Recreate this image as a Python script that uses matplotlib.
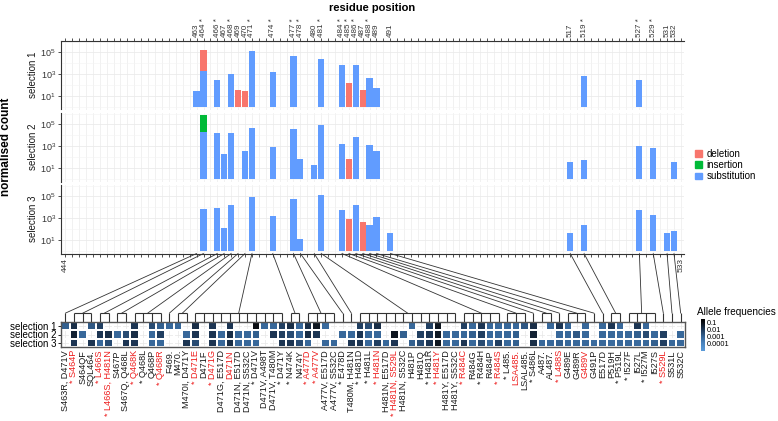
import re
import numpy as np
import matplotlib.pyplot as plt
from matplotlib.colors import LinearSegmentedColormap, Normalize
from matplotlib.patches import Patch, ConnectionPatch

plt.rcParams['font.family'] = ['Liberation Sans', 'DejaVu Sans']
plt.rcParams['mathtext.default'] = 'regular'

# %% Data
res_lo, res_hi = 444, 533
tick_res = [463, 464, 466, 467, 468, 469, 470, 471, 474, 477, 478, 480, 481,
            484, 485, 486, 487, 488, 489, 491, 517, 519, 527, 529, 531, 532]
star_res = [464, 466, 468, 471, 474, 477, 478, 481, 484, 485, 486, 488, 519, 527, 529]

# normalised counts per residue (substitution / deletion / insertion)
sel1_sub_res = [463, 464, 466, 468, 471, 474, 477, 481, 484, 486, 488, 489, 519, 527]
sel1_sub = [27, 2000, 300, 1100, 145000, 1600, 52000, 26000, 7200, 7200, 460, 51, 700, 300]
sel1_del_res = [464, 469, 470, 485, 487]
sel1_del = [87, 34, 28, 150, 34]
sel1_ins_res = []
sel1_ins = []

sel2_sub_res = [464, 466, 467, 468, 470, 471, 474, 477, 478, 480, 481, 484, 486, 488,
                489, 517, 519, 527, 529, 532]
sel2_sub = [20000, 17000, 210, 15000, 380, 51000, 870, 35000, 72, 20, 93000, 1700, 7400,
            1260, 350, 32, 51, 1000, 650, 32]
sel2_del_res = [485]
sel2_del = [72]
sel2_ins_res = [464]
sel2_ins = [35]

sel3_sub_res = [464, 466, 467, 468, 471, 474, 477, 478, 481, 484, 486, 488, 489, 491,
                517, 519, 527, 529, 531, 532]
sel3_sub = [6500, 8000, 115, 15000, 87000, 1550, 56000, 13, 135000, 6000, 18000, 260, 1260,
            45, 41, 260, 5100, 1800, 45, 69]
sel3_del_res = [485, 487]
sel3_del = [930, 470]
sel3_ins_res = []
sel3_ins = []

variants = ["S463R, D471V", "* S464P", "S464QF", "SQL464.", "* L466S", "* L466S, H481N",
            "S467P", "S467Q, Q468L", "* Q468K", "* Q468L", "Q468P", "* Q468R", "F469.",
            "M470.", "M470I, D471Y", "* D471E", "D471F", "* D471G", "D471G, E517D", "D471N",
            "D471N, E517D", "D471N, S532C", "* D471V", "D471V, A498T", "D471V, T480M",
            "* D471Y", "* N474K", "N474Y", "* A477D", "* A477V", "A477V, E517D",
            "A477V, S532C", "* E478D", "T480M, H481N", "* H481D", "* H481L", "* H481N",
            "H481N, E517D", "* H481N, S529L", "H481N, S532C", "H481P", "H481Q", "* H481R",
            "* H481Y", "H481Y, E517D", "H481Y, S532C", "* R484C", "R484G", "* R484H",
            "R484P", "* R484S", "* L485.", "LSA485.", "LSAL485.", "* S486L", "A487.",
            "AL487.", "* L488S", "G489E", "G489R", "G489V", "G491P", "E517D", "P519H",
            "* P519L", "* I527F", "I527L", "* I527M", "I527S", "* S529L", "S531L", "S532C"]
red_variants = ["S464P", "L466S", "L466S, H481N", "Q468K", "Q468R", "D471E", "D471G",
                "D471N", "A477D", "A477V", "H481N", "H481N, S529L", "H481Y", "R484C",
                "R484S", "LSA485.", "L488S", "G489V", "S529L"]

freq_sel1 = [0.001, 0.015, None, 0.0015, 0.006, None, None, None, 0.01, None,
             0.003, 0.001, 0.0006, 0.0006, None, 0.015, None, 0.01, None, 0.01,
             None, None, 0.1, 0.0006, 0.0006, 0.006, 0.015, 0.0006, 0.015, 0.06,
             0.0005, None, None, None, 0.006, 0.003, 0.015, None, None, None,
             0.0006, None, 0.006, 0.06, None, None, 0.006, 0.0006, 0.01, 0.0006,
             0.0006, 0.0006, 0.0006, 0.0015, 0.015, None, 0.0006, 0.01, 0.0006, None,
             0.0006, None, 0.0006, 0.01, 0.0006, None, 0.01, 0.0006, None, None,
             None, None]
freq_sel2 = [None, 0.03, 0.0006, None, 0.01, 0.015, 0.0006, 0.003, 0.015, None,
             0.0006, 0.006, None, None, 0.0006, 0.01, None, 0.01, 0.0006, 0.015,
             0.0006, 0.0006, 0.001, None, 0.01, 0.006, 0.003, 0.0006, 0.015, 0.01,
             None, None, 0.0006, 0.0006, 0.01, 0.0006, 0.0006, None, 0.06, 0.001,
             None, 0.006, 0.01, 0.05, 0.0006, 0.0006, 0.0006, 0.001, 0.006, 0.0006,
             0.0006, 0.0006, 0.001, None, 0.03, None, None, 0.0006, 0.0006, 0.0015,
             0.0006, None, 0.0006, 0.0006, 0.0005, 0.0006, 0.001, 0.003, 0.0006, 0.006,
             None, 0.0006]
freq_sel3 = [None, 0.01, None, 0.01, 0.0006, 0.003, None, 0.01, 0.01, None,
             0.0006, 0.0006, None, None, 0.01, 0.003, None, 0.01, 0.0006, 0.015,
             0.0006, 0.0006, 0.0006, None, None, 0.01, 0.01, 0.003, 0.0006, None,
             0.0006, 0.0006, None, 0.01, 0.01, 0.0006, 0.006, 0.0006, 0.01, None,
             0.001, 0.003, 0.01, 0.06, 0.0006, 0.0006, 0.01, 0.0006, 0.003, 0.0006,
             0.006, 0.0006, 0.001, None, 0.015, 0.0006, 0.0006, 0.001, 0.0006, 0.0006,
             0.0006, 0.0005, 0.0006, 0.0005, 0.0006, 0.0006, 0.0005, 0.0006, 0.001, 0.006,
             0.0006, 0.0006]

col_sub, col_del, col_ins = '#619CFF', '#F8766D', '#00BA38'

# %% Figure layout (pixel based, 778x421)
W, H = 778, 421
fig = plt.figure(figsize=(W / 100, H / 100), dpi=100)

def px_axes(left, top, right, bottom):
    return fig.add_axes([left / W, 1 - bottom / H, (right - left) / W, (bottom - top) / H])

panels = [px_axes(61, 41, 684, 109.5), px_axes(61, 113, 684, 181.5), px_axes(61, 185, 684, 253.5)]
sel_data = [(sel1_sub_res, sel1_sub, sel1_del_res, sel1_del, sel1_ins_res, sel1_ins),
            (sel2_sub_res, sel2_sub, sel2_del_res, sel2_del, sel2_ins_res, sel2_ins),
            (sel3_sub_res, sel3_sub, sel3_del_res, sel3_del, sel3_ins_res, sel3_ins)]
positions = np.arange(res_lo, res_hi + 1)

for i, (ax, (sr, sv, dr, dv, ir, iv)) in enumerate(zip(panels, sel_data)):
    base = dict(zip(sr, np.log10(sv)))
    # stacking happens on the log scale, as ggplot does it
    ax.bar(sr, np.log10(sv), width=0.9, color=col_sub, zorder=2)
    ax.bar(dr, np.log10(dv), bottom=[base.get(r, 0) for r in dr], width=0.9, color=col_del, zorder=2)
    if ir:
        ax.bar(ir, np.log10(iv), bottom=[base.get(r, 0) for r in ir], width=0.9, color=col_ins, zorder=2)
    ax.set_xlim(443.4, 533.45)
    ax.set_ylim(-0.25, 6.05)
    ax.set_xticks(positions)
    ax.set_yticks([1, 3, 5], [r'$10^{1}$', r'$10^{3}$', r'$10^{5}$'])
    ax.set_yticks([0, 2, 4, 6], minor=True)
    ax.tick_params(axis='y', which='major', labelsize=6.5, length=2.2, width=0.6, pad=1.5, colors='#333333')
    ax.tick_params(axis='y', which='minor', length=0)
    ax.grid(axis='x', which='major', color='#ebebeb', lw=0.5)
    ax.grid(axis='y', which='major', color='#ebebeb', lw=0.6)
    ax.grid(axis='y', which='minor', color='#f3f3f3', lw=0.4)
    ax.set_axisbelow(True)
    for s in ['top', 'right', 'bottom']:
        ax.spines[s].set_visible(False)
    ax.spines['left'].set_color('#333333')
    ax.spines['left'].set_linewidth(0.8)
    ax.text(-0.045, 0.5, f'selection {i + 1}', transform=ax.transAxes, rotation=90,
            ha='center', va='center', fontsize=7, color='#1a1a1a')

# top axis with residue labels
ax1 = panels[0]
ax1.spines['top'].set_visible(True)
ax1.spines['top'].set_color('#333333')
ax1.spines['top'].set_linewidth(0.8)
ax1.xaxis.tick_top()
top_labels = [(f'{p} *' if p in star_res else str(p)) if p in tick_res else '' for p in positions]
ax1.set_xticklabels(top_labels)
ax1.tick_params(axis='x', top=True, bottom=False, labeltop=True, labelbottom=False, length=2.2,
                width=0.6, labelsize=5.8, pad=1, labelrotation=90, colors='#333333')

panels[1].tick_params(axis='x', length=0, labelbottom=False)

ax3 = panels[2]
ax3.spines['bottom'].set_visible(True)
ax3.spines['bottom'].set_color('#333333')
ax3.spines['bottom'].set_linewidth(0.8)
ax3.set_xticklabels([str(p) if p in (res_lo, res_hi) else '' for p in positions])
ax3.tick_params(axis='x', length=2.2, width=0.6, labelsize=6, pad=1, labelrotation=90, colors='#333333')

fig.text(372 / W, 1 - 8 / H, 'residue position', ha='center', va='center', fontsize=8, weight='bold')
fig.text(6 / W, 1 - 147 / H, 'normalised count', ha='center', va='center', rotation=90,
         fontsize=8.5, weight='bold')

handles = [Patch(color=col_del), Patch(color=col_ins), Patch(color=col_sub)]
fig.legend(handles, ['deletion', 'insertion', 'substitution'], loc='upper left',
           bbox_to_anchor=(695 / W, 1 - 149 / H), frameon=False, fontsize=7, handlelength=0.7,
           handleheight=0.7, labelspacing=0.12, handletextpad=0.5, borderpad=0, borderaxespad=0)

# %% Heatmap of allele frequencies
LO, HI = -5.15, -0.55
cmap = LinearSegmentedColormap.from_list('af', [
    ((LO - LO) / (HI - LO), '#5a9bd9'), ((-4 - LO) / (HI - LO), '#4a84bf'),
    ((-3 - LO) / (HI - LO), '#33608f'), ((-2 - LO) / (HI - LO), '#1c3553'),
    ((-1 - LO) / (HI - LO), '#0a0d12'), (1.0, '#000000')])
norm = Normalize(LO, HI)

freq = np.array([freq_sel1, freq_sel2, freq_sel3], dtype=float)
axh = px_axes(61, 321.7, 685, 347.3)
axh.pcolormesh(np.arange(len(variants) + 1), np.arange(4), np.ma.masked_invalid(np.log10(freq)),
               cmap=cmap, norm=norm, edgecolors='white', linewidth=0.3)
axh.set_xlim(0, len(variants))
axh.set_ylim(3, 0)
axh.set_xticks(np.arange(len(variants)) + 0.5, variants, rotation=90, fontsize=6.6)
for tl, v in zip(axh.get_xticklabels(), variants):
    tl.set_color('#ee1c1c' if v.lstrip('* ') in red_variants else '#1a1a1a')
axh.set_yticks([0.5, 1.5, 2.5], ['selection 1', 'selection 2', 'selection 3'])
axh.tick_params(axis='x', length=0, pad=2)
axh.tick_params(axis='y', length=2, width=0.6, labelsize=7, pad=1)
axh.grid(True, color='#e6e6e6', lw=0.5)
axh.set_axisbelow(True)
for s in axh.spines.values():
    s.set_color('#555555')
    s.set_linewidth(1.0)

# brackets + connectors from residue position to variant columns
var_res = [int(re.search(r'\d+', v).group()) for v in variants]
for r in tick_res:
    cols = [k for k, vr in enumerate(var_res) if vr == r]
    c0, c1 = min(cols) + 0.5, max(cols) + 0.5
    axh.hlines(-1, c0, c1, color='#333333', lw=0.8, clip_on=False)
    axh.vlines([c + 0.5 for c in cols], -1, 0, color='#333333', lw=0.8, clip_on=False)
    con = ConnectionPatch(xyA=(r, 0), coordsA=ax3.get_xaxis_transform(),
                          xyB=((c0 + c1) / 2, -1), coordsB=axh.transData,
                          color='#333333', lw=0.6)
    fig.add_artist(con)

# colour bar
cax = px_axes(701, 319, 705, 351)
grad = np.linspace(LO, HI, 256)[:, None]
cax.imshow(grad, origin='lower', extent=[0, 1, LO, HI], aspect='auto', cmap=cmap, norm=norm)
cax.set_xticks([])
cax.yaxis.tick_right()
cax.set_yticks([-1, -2, -3, -4], ['0.1', '0.01', '0.001', '0.0001'])
cax.tick_params(axis='y', length=0, pad=1, labelsize=5.3)
for s in cax.spines.values():
    s.set_visible(False)
fig.text(697 / W, 1 - 312 / H, 'Allele frequencies', ha='left', va='center', fontsize=7.2)

fig.savefig('out.png', dpi=100)
